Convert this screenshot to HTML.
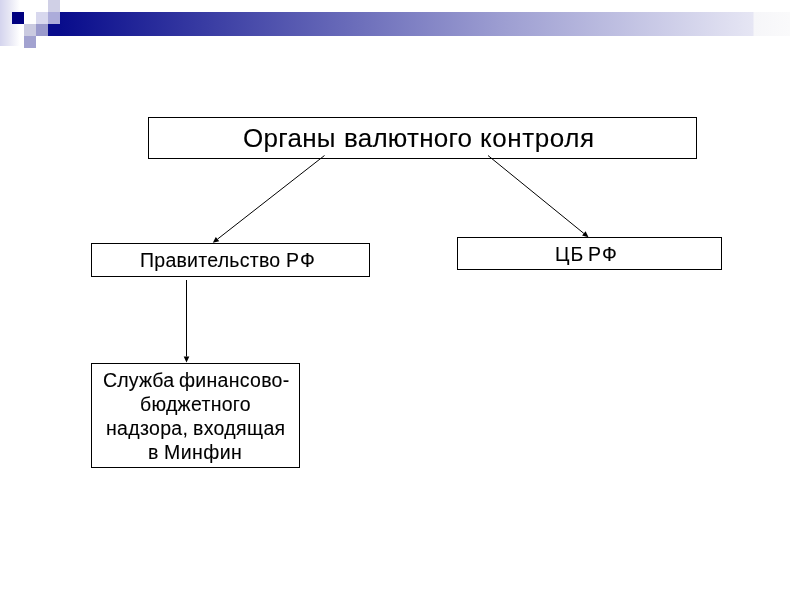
<!DOCTYPE html>
<html><head><meta charset="utf-8">
<style>
html,body{margin:0;padding:0;width:800px;height:600px;background:#fff;overflow:hidden;}
body{position:relative;font-family:"Liberation Sans",sans-serif;color:#000;}
.a{position:absolute;}
.box{position:absolute;box-sizing:border-box;border:1px solid #000;background:#fff;}
.t{position:absolute;white-space:nowrap;line-height:1;will-change:transform;-webkit-text-stroke:0.1px #000;}
</style></head><body>
<!-- header decoration -->
<div class="a" style="left:0;top:0;width:20px;height:46px;background:linear-gradient(to right,#d4d4ee,#e6e6f4 45%,#fff)"></div>
<div class="a" style="left:60px;top:12px;width:730px;height:24px;background:linear-gradient(to right,#080c8c 0px,#9c9dd1 440px,#e6e6f4 693px,#f6f6f9 694px,#fafafb 730px)"></div>
<div class="a" style="left:48px;top:24px;width:12px;height:12px;background:#080c8c"></div>
<div class="a" style="left:12px;top:12px;width:12px;height:12px;background:#000080"></div>
<div class="a" style="left:48px;top:0;width:12px;height:12px;background:#d0d0e6"></div>
<div class="a" style="left:36px;top:12px;width:12px;height:12px;background:#d8d8ee"></div>
<div class="a" style="left:48px;top:12px;width:12px;height:12px;background:#acacda"></div>
<div class="a" style="left:24px;top:24px;width:12px;height:12px;background:#cacae0"></div>
<div class="a" style="left:36px;top:24px;width:12px;height:12px;background:#9a9acc"></div>
<div class="a" style="left:24px;top:36px;width:12px;height:12px;background:#a2a2d0"></div>

<!-- boxes -->
<div class="box" style="left:148px;top:117px;width:549px;height:42px"></div>
<div class="box" style="left:91px;top:243px;width:279px;height:34px"></div>
<div class="box" style="left:457px;top:237px;width:265px;height:33px"></div>
<div class="box" style="left:91px;top:363px;width:209px;height:105px"></div>

<!-- texts -->
<div class="t" style="left:243.00px;top:125.19px;font-size:26px;letter-spacing:0.280px">Органы</div>
<div class="t" style="left:343.90px;top:125.19px;font-size:26px;letter-spacing:0.238px">валютного</div>
<div class="t" style="left:480.00px;top:125.19px;font-size:26px;letter-spacing:0.571px">контроля</div>
<div class="t" style="left:140.00px;top:250.99px;font-size:19.5px;letter-spacing:0.258px">Правительство</div>
<div class="t" style="left:285.90px;top:250.99px;font-size:19.5px;letter-spacing:1.100px">РФ</div>
<div class="t" style="left:555.00px;top:244.99px;font-size:19.5px;letter-spacing:1.000px">ЦБ</div>
<div class="t" style="left:588.45px;top:244.99px;font-size:19.5px;letter-spacing:1.300px">РФ</div>
<div class="t" style="left:103.00px;top:370.99px;font-size:19.5px;letter-spacing:0.150px">Служба</div>
<div class="t" style="left:179.00px;top:370.99px;font-size:19.5px;letter-spacing:0.289px">финансово-</div>
<div class="t" style="left:140.00px;top:395.19px;font-size:19.5px;letter-spacing:0.289px">бюджетного</div>
<div class="t" style="left:106.00px;top:419.09px;font-size:19.5px;letter-spacing:0.321px">надзора,</div>
<div class="t" style="left:192.75px;top:419.09px;font-size:19.5px;letter-spacing:0.350px">входящая</div>
<div class="t" style="left:147.75px;top:442.94px;font-size:19.5px;letter-spacing:0.000px">в</div>
<div class="t" style="left:163.75px;top:442.94px;font-size:19.5px;letter-spacing:0.450px">Минфин</div>
<!-- arrows -->
<svg class="a" style="left:0;top:0" width="800" height="600" viewBox="0 0 800 600">
<g stroke="#000" stroke-width="1" fill="none">
<line x1="324.5" y1="155.5" x2="217.53" y2="239.11"/>
<line x1="488" y1="155.5" x2="583.84" y2="233.42"/>
<line x1="186.5" y1="280" x2="186.50" y2="356.50"/>
</g>
<g fill="#000">
<polygon points="212.80,242.80 215.80,236.90 219.25,241.31"/>
<polygon points="588.50,237.20 582.08,235.59 585.61,231.24"/>
<polygon points="186.50,362.50 183.70,356.50 189.30,356.50"/>
</g>
</svg>
</body></html>
